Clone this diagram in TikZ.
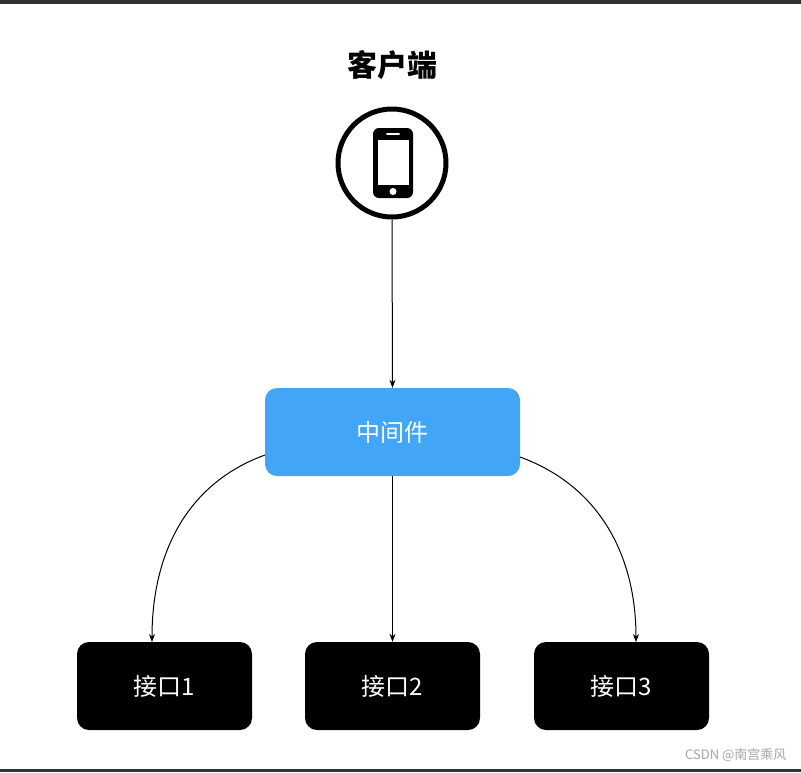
\documentclass[tikz,border=0pt]{standalone}
\usepackage{fontspec}
\newfontfamily\cjk{Noto Sans CJK SC}
\usetikzlibrary{positioning,arrows.meta}
\definecolor{midblue}{RGB}{66,165,245}
\definecolor{framegray}{RGB}{51,51,51}
\tikzset{
  apibox/.style={rectangle,fill=black,rounded corners=12pt,minimum width=175pt,
    minimum height=88pt,text=white,font=\cjk\fontsize{24}{28}\selectfont},
  midbox/.style={rectangle,fill=midblue,rounded corners=12pt,minimum width=255pt,
    minimum height=88pt,text=white,font=\cjk\fontsize{24}{28}\selectfont},
  link/.style={-{Stealth[length=8pt,width=6pt]},line width=1pt}
}
\begin{document}
\begin{tikzpicture}[x=1pt,y=-1pt]
\useasboundingbox (0,0) rectangle (801,772);
\fill[white] (0,0) rectangle (801,772);
\fill[framegray] (0,0) rectangle (801,4);
\fill[framegray] (0,769) rectangle (801,772);

\node[font=\cjk\bfseries\fontsize{30}{34}\selectfont] (title) at (392,65) {客户端};
% client icon
\node[circle,draw,line width=5pt,minimum size=108pt] (client) at (392,163) {};
\fill[black,rounded corners=6pt] (373,128) rectangle (413,198);
\fill[white] (378,140) rectangle (409,185);
\draw[white,line width=2pt,line cap=round] (387,134) -- (399,134);
\fill[white] (393,191.5) circle (3.5);

\node[midbox] (mid) at (392.5,432) {中间件};
\node[apibox] (api1) at (164.5,686) {接口1};
\node[apibox] (api2) at (392.5,686) {接口2};
\node[apibox] (api3) at (621.5,686) {接口3};

\draw[link] (client.south) -- (mid.north);
\draw[link] (mid.south) -- (api2.north);
\draw[link] (265,455) to[out=-160,in=90] (152,642);
\draw[link] (520,457) to[out=-20,in=90] (636,642);

\node[text=gray!70,font=\cjk\fontsize{13}{15}\selectfont,anchor=east] (mark) at (790,755) {CSDN @南宫乘风};
\end{tikzpicture}
\end{document}
